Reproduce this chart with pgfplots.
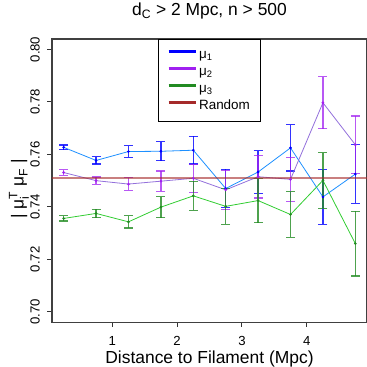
\documentclass[border=0pt]{standalone}
\usepackage{fontspec}
\setmainfont{Liberation Sans}
\usepackage{amsmath}
\usepackage{pgfplots}
\pgfplotsset{compat=1.18}
\definecolor{mublue}{RGB}{0,0,255}
\definecolor{dodger}{RGB}{30,144,255}
\definecolor{mupurple}{RGB}{160,32,240}
\definecolor{medpurple}{RGB}{147,112,219}
\definecolor{forest}{RGB}{34,139,34}
\definecolor{lime}{RGB}{50,205,50}
\definecolor{rbrown}{RGB}{165,42,42}
\newcommand{\fs}[1]{\fontsize{#1}{#1}\selectfont}
\begin{document}
\begin{tikzpicture}
\useasboundingbox (0,0) rectangle (367bp,367bp);
\begin{axis}[
  at={(52bp,44.7bp)}, anchor=south west,
  scale only axis, width=315bp, height=283.3bp,
  xmin=0.07, xmax=4.93, ymin=0.696, ymax=0.804,
  xtick={1,2,3,4}, xticklabels={1,2,3,4},
  ytick={0.70,0.72,0.74,0.76,0.78,0.80},
  yticklabels={0.70,0.72,0.74,0.76,0.78,0.80},
  xtick pos=left, ytick pos=left,
  tick align=outside, major tick length=4.5bp,
  tick style={draw=black!80, line width=1bp},
  axis line style={draw=black!75, line width=1.2bp},
  xticklabel style={anchor=north, inner sep=0pt, text height=19bp, font=\fs{13.2}},
  yticklabel style={rotate=90, anchor=south, inner sep=0pt, font=\fs{13.2}},
  yticklabel shift=7.5bp,
  title={d\textsubscript{C} > 2 Mpc, n > 500},
  title style={at={(axis description cs:0.5,1.0618)}, anchor=base, font=\fs{17.5}},
  xlabel={Distance to Filament (Mpc)},
  xlabel style={at={(axis description cs:0.5,-0.1437)}, anchor=base, inner sep=0pt, font=\fs{17.5}},
  ylabel={$\text{|}\;\text{μ}^{\text{T}}_{\text{i}}\;\text{μ}_{\text{F}}\;\text{|}$},
  ylabel style={at={(axis description cs:-0.105,0.4705)}, anchor=center, font=\fs{17.5}},
  legend style={at={(axis description cs:0.5,1)}, anchor=north, draw=black, line width=0.8bp,
    fill=white, font=\fs{13.5}, inner xsep=8.5bp, inner ysep=7.5bp, row sep=0bp,
    nodes={inner sep=2bp, text height=9.8bp, text depth=3bp},
    /tikz/every even column/.append style={column sep=11bp}},
  legend cell align=left,
  legend image code/.code={\draw[#1, line width=3bp] (0bp,3.5bp) -- (27bp,3.5bp);},
]
\addlegendimage{mublue}\addlegendentry{μ\textsubscript{1}}
\addlegendimage{mupurple}\addlegendentry{μ\textsubscript{2}}
\addlegendimage{forest}\addlegendentry{μ\textsubscript{3}}
\addlegendimage{rbrown}\addlegendentry{Random}

% mu1
\addplot[forget plot, color=dodger, line width=0.8bp, mark=*, mark size=0.9bp,
  mark options={fill=mublue, draw=mublue},
  error bars/.cd, y dir=both, y explicit,
  error bar style={draw=mublue, line width=1.3bp, opacity=0.8},
  error mark options={rotate=90, draw=mublue, line width=1.3bp, mark size=4.5bp, opacity=0.8}]
coordinates {
(0.25,0.7627) +- (0,0.0009)
(0.75,0.7577) +- (0,0.0014)
(1.25,0.7611) +- (0,0.0022)
(1.75,0.7612) +- (0,0.0036)
(2.25,0.7616) +- (0,0.0053)
(2.75,0.7470) +- (0,0.0073)
(3.25,0.7533) +- (0,0.0081)
(3.75,0.7625) +- (0,0.0088)
(4.25,0.7438) +- (0,0.0104)
(4.75,0.7525) +- (0,0.0112)
};
% mu2
\addplot[forget plot, color=medpurple, line width=0.8bp, mark=*, mark size=0.9bp,
  mark options={fill=mupurple, draw=mupurple},
  error bars/.cd, y dir=both, y explicit,
  error bar style={draw=mupurple, line width=1.3bp, opacity=0.75},
  error mark options={rotate=90, draw=mupurple, line width=1.3bp, mark size=4.5bp, opacity=0.75}]
coordinates {
(0.25,0.7531) +- (0,0.0011)
(0.75,0.7500) +- (0,0.0014)
(1.25,0.7487) +- (0,0.0024)
(1.75,0.7498) +- (0,0.0039)
(2.25,0.7509) +- (0,0.0053)
(2.75,0.7465) +- (0,0.0074)
(3.25,0.7515) +- (0,0.0081)
(3.75,0.7505) +- (0,0.0084)
(4.25,0.7797) +- (0,0.0099)
(4.75,0.7637) +- (0,0.0109)
};
% mu3
\addplot[forget plot, color=lime, line width=0.8bp, mark=*, mark size=0.9bp,
  mark options={fill=forest, draw=forest},
  error bars/.cd, y dir=both, y explicit,
  error bar style={draw=forest, line width=1.3bp, opacity=0.8},
  error mark options={rotate=90, draw=forest, line width=1.3bp, mark size=4.5bp, opacity=0.8}]
coordinates {
(0.25,0.7356) +- (0,0.0010)
(0.75,0.7375) +- (0,0.0016)
(1.25,0.7343) +- (0,0.0024)
(1.75,0.7399) +- (0,0.0040)
(2.25,0.7442) +- (0,0.0055)
(2.75,0.7402) +- (0,0.0068)
(3.25,0.7424) +- (0,0.0084)
(3.75,0.7371) +- (0,0.0087)
(4.25,0.7501) +- (0,0.0106)
(4.75,0.7260) +- (0,0.0123)
};
% random
\addplot[forget plot, color=rbrown, opacity=0.6, line width=2.5bp, mark=none]
coordinates {(0,0.7510) (5,0.7510)};
\end{axis}
\end{tikzpicture}
\end{document}
